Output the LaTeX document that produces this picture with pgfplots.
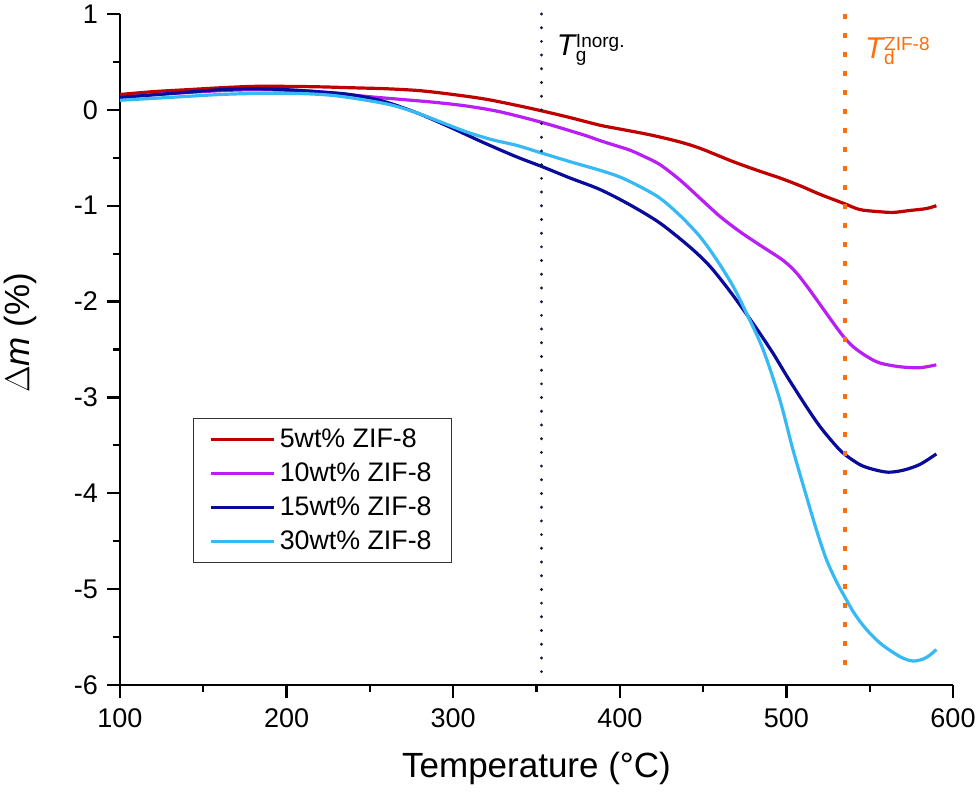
\documentclass[border=0pt]{standalone}
\usepackage{fontspec}
\setmainfont{Liberation Sans}
\usepackage{pgfplots}
\pgfplotsset{compat=1.18}
\definecolor{cred}{RGB}{192,0,0}
\definecolor{cmag}{RGB}{185,30,245}
\definecolor{cnavy}{RGB}{10,10,155}
\definecolor{clight}{RGB}{55,185,245}
\definecolor{corange}{RGB}{255,110,10}
\definecolor{cdot}{RGB}{25,25,50}
\newcommand{\scr}{\fontsize{9.5pt}{10pt}\selectfont}
\newcommand{\tfont}{\fontsize{13.5pt}{15pt}\selectfont}
\begin{document}
\begin{tikzpicture}
\begin{axis}[
  at={(0,0)}, anchor=south west,
  scale only axis, width=416.5pt, height=335.5pt,
  xmin=100, xmax=600, ymin=-6, ymax=1,
  axis x line*=bottom, axis y line*=left,
  axis line style={line width=1.2pt, -},
  xtick={100,200,...,600}, ytick={-6,-5,...,1},
  minor xtick={150,250,...,550}, minor ytick={-5.5,-4.5,...,0.5},
  tick align=outside,
  major tick length=6.5pt, minor tick length=3.5pt,
  every tick/.style={line width=1.1pt, black},
  xticklabel={\tfont\pgfmathprintnumber[assume math mode=true]{\tick}},
  yticklabel={\tfont\pgfmathprintnumber[assume math mode=true]{\tick}},
  xticklabel style={yshift=-2pt},
  yticklabel style={xshift=-1pt},
  xlabel={Temperature (°C)},
  ylabel={$\Delta$\textit{m} (\%)},
  label style={font=\fontsize{17.5pt}{20pt}\selectfont},
  xlabel style={at={(axis description cs:0.5,0)}, anchor=north, yshift=-30pt},
  ylabel style={at={(axis description cs:-0.0996,0.525)}, anchor=south, inner sep=0pt},
  legend style={at={(axis description cs:0.0876,0.398)}, anchor=north west,
    font=\fontsize{13.4pt}{16pt}\selectfont, draw=black!80, line width=0.6pt,
    row sep=2.2pt, inner xsep=8pt, inner ysep=3pt},
  legend cell align=left,
  legend image code/.code={\draw[#1, line width=1.6pt] (0pt,0pt) -- (31.5pt,0pt);},
  clip=false,
]
\addplot[cred, line width=1.6pt, smooth, tension=0.5] coordinates {
(100,0.16)(120,0.19)(140,0.21)(160,0.23)(180,0.245)(200,0.245)(220,0.24)(240,0.23)(260,0.22)(280,0.20)(300,0.16)(320,0.11)(340,0.04)(353,-0.01)(370,-0.08)(388,-0.16)(400,-0.20)(418,-0.26)(435,-0.33)(448,-0.40)(468,-0.54)(484,-0.64)(496,-0.71)(508,-0.79)(520,-0.88)(535,-0.98)(544,-1.04)(554,-1.06)(564,-1.07)(574,-1.05)(584,-1.03)(590,-1.00)};
\addlegendentry{5wt\% ZIF-8}
\addplot[cmag, line width=1.6pt, smooth, tension=0.5] coordinates {
(100,0.13)(130,0.17)(160,0.20)(180,0.21)(200,0.205)(218,0.19)(248,0.14)(268,0.11)(288,0.08)(308,0.04)(328,-0.02)(353,-0.13)(378,-0.26)(388,-0.32)(397,-0.37)(406,-0.42)(415,-0.49)(424,-0.57)(436,-0.73)(448,-0.92)(460,-1.11)(472,-1.27)(484,-1.41)(498,-1.57)(506,-1.70)(514,-1.88)(521,-2.05)(528,-2.22)(534,-2.36)(540,-2.47)(548,-2.57)(556,-2.64)(568,-2.68)(580,-2.69)(590,-2.66)};
\addlegendentry{10wt\% ZIF-8}
\addplot[cnavy, line width=1.6pt, smooth, tension=0.5] coordinates {
(100,0.13)(130,0.17)(160,0.21)(180,0.22)(200,0.21)(218,0.19)(238,0.16)(258,0.09)(278,-0.03)(298,-0.18)(318,-0.34)(338,-0.49)(353,-0.59)(370,-0.71)(388,-0.83)(406,-0.99)(424,-1.18)(442,-1.43)(454,-1.63)(466,-1.89)(476,-2.13)(484,-2.33)(492,-2.54)(500,-2.77)(508,-2.99)(514,-3.15)(520,-3.30)(527,-3.45)(534,-3.58)(544,-3.70)(552,-3.75)(561,-3.78)(570,-3.76)(580,-3.70)(590,-3.59)};
\addlegendentry{15wt\% ZIF-8}
\addplot[clight, line width=1.6pt, smooth, tension=0.5] coordinates {
(100,0.10)(130,0.13)(160,0.16)(180,0.17)(208,0.17)(228,0.15)(248,0.10)(263,0.05)(278,-0.03)(293,-0.13)(308,-0.23)(323,-0.31)(338,-0.37)(353,-0.45)(370,-0.54)(388,-0.63)(400,-0.70)(412,-0.80)(424,-0.92)(436,-1.10)(448,-1.32)(458,-1.56)(468,-1.84)(476,-2.12)(486,-2.50)(496,-3.02)(504,-3.55)(512,-4.03)(518,-4.38)(524,-4.69)(530,-4.92)(535,-5.08)(541,-5.26)(548,-5.42)(556,-5.56)(564,-5.66)(570,-5.72)(576,-5.75)(582,-5.73)(586,-5.69)(590,-5.63)};
\addlegendentry{30wt\% ZIF-8}
\addplot[cdot, line width=1.6pt, line cap=round, dash pattern=on 0pt off 6.85pt, forget plot] coordinates {(353,1) (353,-5.9)};
\addplot[corange, line width=2pt, dash pattern=on 2.5pt off 7pt, forget plot] coordinates {(535,1) (535,-5.9)};
\node[anchor=base west, inner sep=0pt, font=\fontsize{15pt}{17pt}\selectfont] at (axis cs:362,0.57) {\textit{T}\kern-0.5pt\raisebox{4pt}{\scr\rlap{Inorg.}}\raisebox{-3pt}{\scr g}};
\node[anchor=base west, inner sep=0pt, text=corange, font=\fontsize{15pt}{17pt}\selectfont] at (axis cs:547,0.54) {\textit{T}\kern-0.5pt\raisebox{4pt}{\scr\rlap{ZIF-8}}\raisebox{-3pt}{\scr d}};
\end{axis}
\pgfresetboundingbox
\useasboundingbox (-60pt,-55pt) rectangle (429.5pt,342.5pt);
\end{tikzpicture}
\end{document}
